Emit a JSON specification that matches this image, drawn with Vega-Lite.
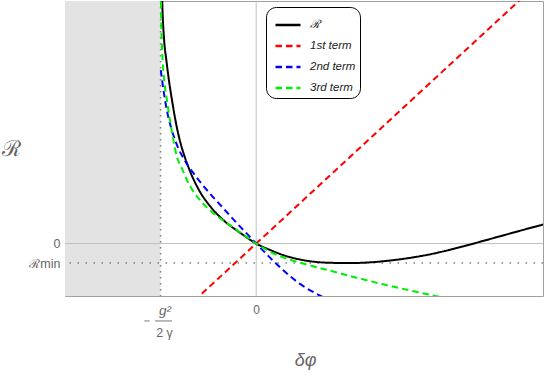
{
  "$schema": "https://vega.github.io/schema/vega-lite/v6.json",
  "width": 478,
  "height": 295,
  "autosize": {"type": "none"},
  "padding": {"left": 65, "top": 1, "right": 2, "bottom": 78},
  "background": "white",
  "config": {
    "view": {"stroke": "#a0a0a0", "strokeWidth": 1},
    "font": "Liberation Sans"
  },
  "datasets": {
    "curves": [
      {"s": "ℛ", "x": -0.986, "y": 13.5},
      {"s": "ℛ", "x": -0.983, "y": 12.49},
      {"s": "ℛ", "x": -0.963, "y": 10.44},
      {"s": "ℛ", "x": -0.94, "y": 9.41},
      {"s": "ℛ", "x": -0.913, "y": 8.38},
      {"s": "ℛ", "x": -0.881, "y": 7.36},
      {"s": "ℛ", "x": -0.845, "y": 6.33},
      {"s": "ℛ", "x": -0.8, "y": 5.31},
      {"s": "ℛ", "x": -0.748, "y": 4.45},
      {"s": "ℛ", "x": -0.683, "y": 3.6},
      {"s": "ℛ", "x": -0.598, "y": 2.74},
      {"s": "ℛ", "x": -0.478, "y": 1.89},
      {"s": "ℛ", "x": -0.345, "y": 1.21},
      {"s": "ℛ", "x": -0.17, "y": 0.56},
      {"s": "ℛ", "x": 0, "y": 0},
      {"s": "ℛ", "x": 0.15, "y": -0.34},
      {"s": "ℛ", "x": 0.3, "y": -0.62},
      {"s": "ℛ", "x": 0.45, "y": -0.81},
      {"s": "ℛ", "x": 0.6, "y": -0.93},
      {"s": "ℛ", "x": 0.8, "y": -0.99},
      {"s": "ℛ", "x": 1.0, "y": -1.0},
      {"s": "ℛ", "x": 1.2, "y": -0.96},
      {"s": "ℛ", "x": 1.4, "y": -0.87},
      {"s": "ℛ", "x": 1.6, "y": -0.74},
      {"s": "ℛ", "x": 1.8, "y": -0.57},
      {"s": "ℛ", "x": 2.0, "y": -0.35},
      {"s": "ℛ", "x": 2.2, "y": -0.1},
      {"s": "ℛ", "x": 2.4, "y": 0.17},
      {"s": "ℛ", "x": 2.6, "y": 0.44},
      {"s": "ℛ", "x": 2.8, "y": 0.71},
      {"s": "ℛ", "x": 3.02, "y": 1.0},
      {"s": "1st term", "x": -0.65, "y": -2.94},
      {"s": "1st term", "x": 0, "y": 0},
      {"s": "1st term", "x": 2.8, "y": 12.68},
      {"s": "2nd term", "x": -0.998, "y": 8.9},
      {"s": "2nd term", "x": -0.97, "y": 7.87},
      {"s": "2nd term", "x": -0.935, "y": 6.85},
      {"s": "2nd term", "x": -0.883, "y": 5.82},
      {"s": "2nd term", "x": -0.821, "y": 4.96},
      {"s": "2nd term", "x": -0.752, "y": 4.3},
      {"s": "2nd term", "x": -0.64, "y": 3.5},
      {"s": "2nd term", "x": -0.501, "y": 2.66},
      {"s": "2nd term", "x": -0.361, "y": 1.9},
      {"s": "2nd term", "x": -0.222, "y": 1.15},
      {"s": "2nd term", "x": -0.083, "y": 0.43},
      {"s": "2nd term", "x": 0, "y": 0},
      {"s": "2nd term", "x": 0.144, "y": -0.72},
      {"s": "2nd term", "x": 0.283, "y": -1.37},
      {"s": "2nd term", "x": 0.458, "y": -2.07},
      {"s": "2nd term", "x": 0.667, "y": -2.67},
      {"s": "2nd term", "x": 0.72, "y": -2.8},
      {"s": "3rd term", "x": -0.997, "y": 13.5},
      {"s": "3rd term", "x": -0.996, "y": 12.49},
      {"s": "3rd term", "x": -0.988, "y": 10.44},
      {"s": "3rd term", "x": -0.979, "y": 9.41},
      {"s": "3rd term", "x": -0.962, "y": 8.38},
      {"s": "3rd term", "x": -0.934, "y": 7.36},
      {"s": "3rd term", "x": -0.902, "y": 6.33},
      {"s": "3rd term", "x": -0.866, "y": 5.31},
      {"s": "3rd term", "x": -0.83, "y": 4.45},
      {"s": "3rd term", "x": -0.785, "y": 3.94},
      {"s": "3rd term", "x": -0.708, "y": 3.09},
      {"s": "3rd term", "x": -0.588, "y": 2.23},
      {"s": "3rd term", "x": -0.465, "y": 1.63},
      {"s": "3rd term", "x": -0.326, "y": 1.12},
      {"s": "3rd term", "x": -0.152, "y": 0.52},
      {"s": "3rd term", "x": 0, "y": 0},
      {"s": "3rd term", "x": 0.144, "y": -0.42},
      {"s": "3rd term", "x": 0.354, "y": -0.83},
      {"s": "3rd term", "x": 0.563, "y": -1.12},
      {"s": "3rd term", "x": 0.772, "y": -1.39},
      {"s": "3rd term", "x": 1.051, "y": -1.75},
      {"s": "3rd term", "x": 1.329, "y": -2.09},
      {"s": "3rd term", "x": 1.679, "y": -2.48},
      {"s": "3rd term", "x": 1.95, "y": -2.77}
    ]
  },
  "layer": [
    {
      "data": {"values": [{"x": -2, "x2": -1, "y": -2.69, "y2": 12.44}]},
      "mark": {"type": "rect", "color": "#e3e3e3"},
      "encoding": {
        "x": {"field": "x", "type": "quantitative", "scale": {"domain": [-2, 3], "nice": false, "zero": false},
          "axis": {"values": [0], "format": "d", "domain": false, "ticks": false, "grid": false,
            "labelColor": "#666", "labelFontSize": 12, "labelPadding": 8,
            "title": "δφ", "titleFontSize": 18, "titleFontStyle": "italic", "titleFontWeight": "normal",
            "titleColor": "#666", "titleX": 240, "titleY": 64, "titleBaseline": "middle", "titleAlign": "center"}},
        "x2": {"field": "x2"},
        "y": {"field": "y", "type": "quantitative", "scale": {"domain": [-2.69, 12.44], "nice": false, "zero": false},
          "axis": {"values": [-1, 0], "domain": false, "ticks": false, "grid": false,
            "labelExpr": "datum.value == 0 ? '0' : 'ℛmin'",
            "labelColor": "#666", "labelFontSize": 12.5, "labelPadding": 5,
            "title": "ℛ", "titleAngle": 0, "titleFontSize": 22, "titleFontWeight": "normal",
            "titleColor": "#666", "titleX": -54, "titleY": 147, "titleBaseline": "middle", "titleAlign": "center"}},
        "y2": {"field": "y2"}
      }
    },
    {
      "data": {"values": [{"v": 0}]},
      "mark": {"type": "rule", "color": "#c0c0c0", "strokeWidth": 1},
      "encoding": {"x": {"field": "v", "type": "quantitative"}}
    },
    {
      "data": {"values": [{"v": 0}]},
      "mark": {"type": "rule", "color": "#c0c0c0", "strokeWidth": 1},
      "encoding": {"y": {"field": "v", "type": "quantitative"}}
    },
    {
      "data": {"values": [{"v": -1}]},
      "mark": {"type": "rule", "color": "#808080", "strokeWidth": 1.5, "strokeDash": [1.5, 4.5]},
      "encoding": {"x": {"field": "v", "type": "quantitative"}}
    },
    {
      "data": {"values": [{"v": -1}]},
      "mark": {"type": "rule", "color": "#808080", "strokeWidth": 1.5, "strokeDash": [1.5, 6.5]},
      "encoding": {"y": {"field": "v", "type": "quantitative"}}
    },
    {
      "data": {"values": [{}]},
      "mark": {"type": "text", "text": "g²", "fontSize": 13.5, "font": "Liberation Sans", "fontStyle": "italic", "color": "#666", "align": "center", "baseline": "middle"},
      "encoding": {"x": {"datum": -0.955, "type": "quantitative"}, "y": {"datum": -3.46, "type": "quantitative"}}
    },
    {
      "data": {"values": [{}]},
      "mark": {"type": "text", "text": "2 γ", "fontSize": 12.5, "font": "Liberation Sans", "color": "#666", "align": "center", "baseline": "middle"},
      "encoding": {"x": {"datum": -0.959, "type": "quantitative"}, "y": {"datum": -4.6, "type": "quantitative"}}
    },
    {
      "data": {"values": [{}]},
      "mark": {"type": "rule", "color": "#777", "strokeWidth": 1},
      "encoding": {"x": {"datum": -1.059, "type": "quantitative"}, "x2": {"datum": -0.881}, "y": {"datum": -3.97, "type": "quantitative"}}
    },
    {
      "data": {"values": [{}]},
      "mark": {"type": "rule", "color": "#777", "strokeWidth": 1},
      "encoding": {"x": {"datum": -1.17, "type": "quantitative"}, "x2": {"datum": -1.115}, "y": {"datum": -3.97, "type": "quantitative"}}
    },
    {
      "data": {"name": "curves"},
      "mark": {"type": "line", "strokeWidth": 2, "clip": true, "interpolate": "monotone"},
      "encoding": {
        "x": {"field": "x", "type": "quantitative"},
        "y": {"field": "y", "type": "quantitative"},
        "color": {"field": "s", "type": "nominal",
          "scale": {"domain": ["ℛ", "1st term", "2nd term", "3rd term"], "range": ["#000000", "#ff0000", "#0000ff", "#00ee00"]},
          "legend": {"title": null, "orient": "none", "legendX": 201, "legendY": 6,
            "strokeColor": "#000000", "cornerRadius": 10, "fillColor": "white",
            "padding": 4, "symbolOffset": 4, "symbolType": "stroke", "symbolSize": 625, "symbolStrokeWidth": 2.5,
            "labelFontStyle": "italic", "labelFontSize": 11.5, "labelColor": "#222", "labelOffset": 8,
            "rowPadding": 1}},
        "strokeDash": {"field": "s", "type": "nominal",
          "scale": {"domain": ["ℛ", "1st term", "2nd term", "3rd term"], "range": [[1, 0], [6.5, 4], [6.5, 4], [6.5, 4]]},
          "legend": {"title": null, "orient": "none", "legendX": 201, "legendY": 6,
            "strokeColor": "#000000", "cornerRadius": 10, "fillColor": "white",
            "padding": 4, "symbolOffset": 4, "symbolType": "stroke", "symbolSize": 625, "symbolStrokeWidth": 2.5,
            "labelFontStyle": "italic", "labelFontSize": 11.5, "labelColor": "#222", "labelOffset": 8,
            "rowPadding": 1}}
      }
    }
  ]
}
